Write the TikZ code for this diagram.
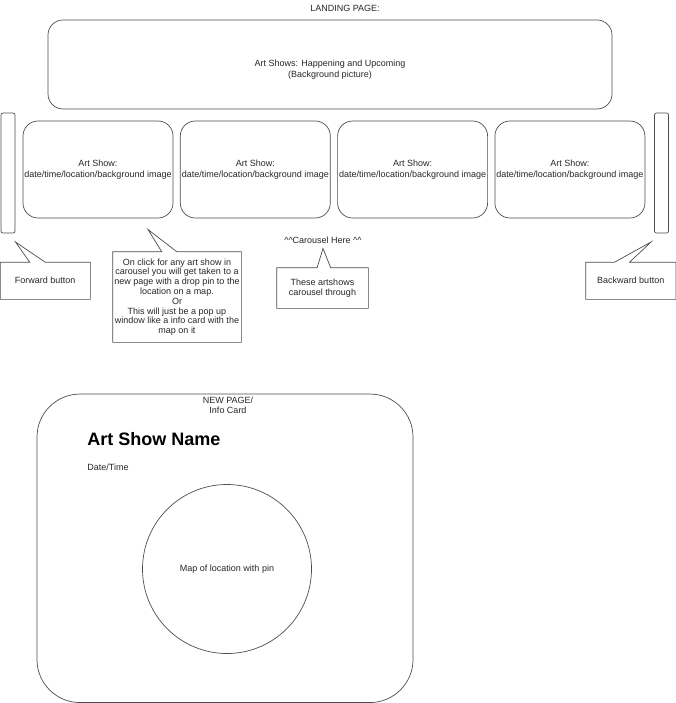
\documentclass[tikz,border=0pt]{standalone}
\usepackage{fontspec}
\setmainfont{Liberation Sans}
\usepackage{tikz}
\usetikzlibrary{positioning}
\tikzstyle{banner} = [rectangle, rounded corners = 15, minimum width = 564,
  minimum height = 89, draw = black!70]
\tikzstyle{artshow} = [
  rectangle, rounded corners = 15, inner sep = 1,
  minimum width = 150, minimum height = 97,
  draw = black!70, align = center
]
\tikzstyle{nav} = [rectangle, rounded corners = 2, minimum width = 14,
  minimum height = 120, draw = black!70]
\tikzstyle{note} = [rectangle, inner sep = 0, align = center]
\tikzstyle{callout} = [draw = black!70]
\tikzstyle{card} = [rectangle, rounded corners = 43, minimum width = 376,
  minimum height = 308.5, draw = black!70]

\begin{document}
\begin{tikzpicture}[x = 1pt, y = -1pt, node distance = 0, line width = 0.7,
    font = \fontsize{9}{10.5}\selectfont, text = black!85]
      \useasboundingbox (0, 0) rectangle (676, 703);
      % landing page
      \node (landing) at (345, 8) {LANDING PAGE:};
      \node [banner] (banner) at (330, 64.5) {};
      \node [align = center] (banner-text) at (330, 69.5)
        {Art Shows: Happening and Upcoming\\(Background picture)};
      % carousel
      \node [artshow] (show-1) at (98, 169.5)
        {Art Show:\\date/time/location/background image};
      \node [artshow, right of = show-1, xshift = 157.3] (show-2)
        {Art Show:\\date/time/location/background image};
      \node [artshow, right of = show-2, xshift = 157.3] (show-3)
        {Art Show:\\date/time/location/background image};
      \node [artshow, right of = show-3, xshift = 157.3] (show-4)
        {Art Show:\\date/time/location/background image};
      \node [nav] (nav-left) at (8, 173) {};
      \node [nav] (nav-right) at (661.5, 173) {};
      % notes
      \node [note, minimum width = 89.5, minimum height = 36.5] (fwd)
        at (45.25, 280.75) {Forward button};
      \node [note, minimum width = 89.5, minimum height = 36.5] (bwd)
        at (630.75, 280.75) {Backward button};
      \node [note, minimum width = 128, minimum height = 90,
        font = \fontsize{9}{9.8}\selectfont] (click) at (177, 297)
        {On click for any art show in\\carousel you will get taken to a\\
         new page with a drop pin to the\\location on a map.\\Or\\
         This will just be a pop up\\window like a info card with the\\
         map on it};
      \node (carousel-here) at (323, 240)
        {\textasciicircum\textasciicircum Carousel Here \textasciicircum\textasciicircum};
      \node [note, minimum width = 91, minimum height = 40] (through)
        at (322.5, 288) {These artshows\\carousel through};
      \coordinate (fwd-tip) at (15.5, 242);
      \coordinate (bwd-tip) at (651, 242);
      \coordinate (click-tip) at (148, 229.5);
      \coordinate (through-tip) at (323, 248.5);

      \draw [callout] (fwd.north west) -- ++(29.5, 0) -- (fwd-tip)
        -- ([xshift = 45]fwd.north west) -- (fwd.north east)
        -- (fwd.south east) -- (fwd.south west) -- cycle;
      \draw [callout] (bwd.north west) -- ++(29, 0) -- (bwd-tip)
        -- ([xshift = 44]bwd.north west) -- (bwd.north east)
        -- (bwd.south east) -- (bwd.south west) -- cycle;
      \draw [callout] (click.north west) -- ++(49, 0) -- (click-tip)
        -- ([xshift = 64]click.north west) -- (click.north east)
        -- (click.south east) -- (click.south west) -- cycle;
      \draw [callout] (through.north west) -- ++(40.5, 0) -- (through-tip)
        -- ([xshift = 54]through.north west) -- (through.north east)
        -- (through.south east) -- (through.south west) -- cycle;
      % info card
      \node [card] (card) at (225, 548.3) {};
      \node [align = center, font = \fontsize{9}{10}\selectfont]
        (card-title) at (228, 405) {NEW PAGE/\\Info Card};
      \node [anchor = west, inner sep = 0, text = black,
        font = \bfseries\fontsize{18}{20}\selectfont] (show-name)
        at (87, 439) {Art Show Name};
      \node [anchor = west, inner sep = 0] (date) at (87, 467) {Date/Time};
      \node [circle, draw = black!70, minimum size = 169] (map) at (227, 569)
        {Map of location with pin};
    \end{tikzpicture}
\end{document}
